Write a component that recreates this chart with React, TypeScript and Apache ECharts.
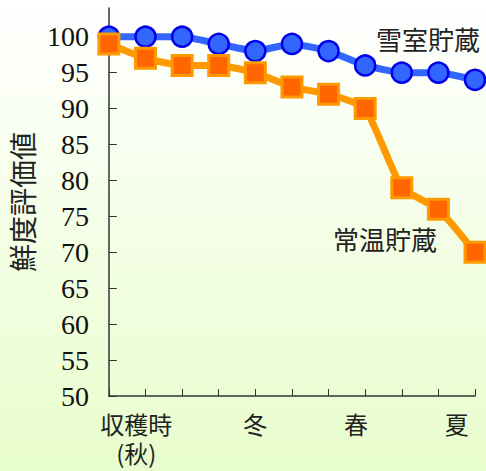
import React, { useEffect, useRef } from "react";
import * as echarts from "echarts";

const steps = ["0", "1", "2", "3", "4", "5", "6", "7", "8", "9", "10"];
const yukimuro = [100, 100, 100, 99, 98, 99, 98, 96, 95, 95, 94];
const jouon = [99, 97, 96, 96, 95, 93, 92, 90, 79, 76, 70];
const yTicks = [50, 55, 60, 65, 70, 75, 80, 85, 90, 95, 100];
const seasonPositions = [3, 16, 27, 38];
const seasonNames = ["収穫時\n(秋)", "冬", "春", "夏"];
const quarterSteps = 41;

const JP = "'Noto Sans CJK JP', sans-serif";
const SERIF = "'Liberation Serif', 'DejaVu Serif', serif";

export default function App() {
  const ref = useRef<HTMLDivElement>(null);
  useEffect(() => {
    if (!ref.current) return;
    const chart = echarts.init(ref.current, null, { renderer: "svg" });
    const seasonCats = Array.from({ length: quarterSteps }, (_, i) => {
      const k = seasonPositions.indexOf(i);
      return k >= 0 ? seasonNames[k] : "";
    });
    chart.setOption({
      animation: false,
      backgroundColor: {
        type: "linear",
        x: 0,
        y: 0,
        x2: 0,
        y2: 1,
        colorStops: [
          { offset: 0, color: "#ffffff" },
          { offset: 1, color: "#e8fdcc" },
        ],
      },
      grid: { left: 108, right: 11, top: 8, bottom: 75 },
      xAxis: [
        {
          type: "category",
          data: steps,
          boundaryGap: false,
          axisLine: { lineStyle: { color: "#333", width: 1.5 } },
          axisTick: { inside: true, length: 7, interval: 0, lineStyle: { color: "#333" } },
          axisLabel: { show: false },
          splitLine: { show: false },
        },
        {
          type: "category",
          data: seasonCats,
          position: "bottom",
          boundaryGap: false,
          axisLine: { show: false },
          axisTick: { show: false },
          axisLabel: {
            interval: 0,
            margin: 13,
            formatter: (v: string) =>
              v
                .split("\n")
                .map((s) => "{s|" + s + "}")
                .join("\n"),
            rich: {
              s: { fontFamily: JP, fontSize: 24, lineHeight: 29, color: "#222" },
            },
          },
        },
      ],
      yAxis: {
        type: "value",
        min: 50,
        max: 104,
        interval: 5,
        name: "鮮度評価値",
        nameLocation: "middle",
        nameRotate: 90,
        nameGap: 72,
        nameTextStyle: { fontFamily: JP, fontSize: 28, color: "#222" },
        axisLine: { show: true, lineStyle: { color: "#333", width: 1.5 } },
        axisTick: { show: true, inside: true, length: 8, customValues: yTicks, lineStyle: { color: "#333" } },
        axisLabel: {
          margin: 20,
          fontFamily: SERIF,
          fontSize: 28,
          color: "#111",
          formatter: (v: number) => (v > 100 ? "" : String(v)),
        },
        splitLine: { show: false },
      },
      series: [
        {
          name: "雪室貯蔵",
          type: "line",
          data: yukimuro,
          smooth: 0.15,
          symbol: "circle",
          symbolSize: 20,
          lineStyle: { color: "#3366ff", width: 7 },
          itemStyle: { color: "#3366ff", borderColor: "#0000ee", borderWidth: 2.5 },
          z: 2,
        },
        {
          name: "常温貯蔵",
          type: "line",
          data: jouon,
          smooth: 0.15,
          symbol: "rect",
          symbolSize: 20,
          lineStyle: { color: "#ff9900", width: 7 },
          itemStyle: { color: "#ff6600", borderColor: "#ff9900", borderWidth: 3 },
          z: 3,
        },
      ],
      graphic: [
        {
          type: "text",
          left: 376,
          top: 25,
          style: { text: "雪室貯蔵", fontFamily: JP, fontSize: 26, fill: "#222" },
        },
        {
          type: "text",
          left: 333,
          top: 225,
          style: { text: "常温貯蔵", fontFamily: JP, fontSize: 26, fill: "#222" },
        },
      ],
    });
    return () => chart.dispose();
  }, []);
  return <div ref={ref} style={{ width: 486, height: 471, position: "absolute", left: 0, top: 0 }} />;
}
